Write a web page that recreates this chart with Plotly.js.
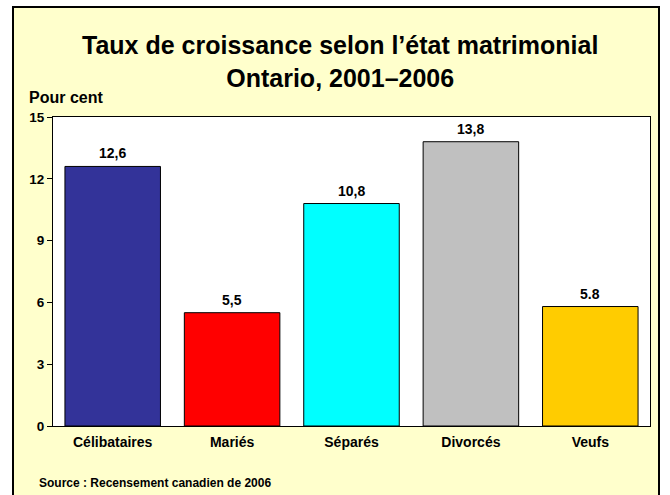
<!DOCTYPE html>
<html>
<head>
<meta charset="utf-8">
<script src="https://cdn.plot.ly/plotly-3.0.1.min.js"></script>
<style>
html,body{margin:0;padding:0;background:#ffffff;width:670px;height:495px;overflow:hidden;}
#frame{position:absolute;left:12px;top:6px;width:644px;height:488px;border:2px solid #000;background:#FFFFCC;}
#chart{width:644px;height:488px;}
</style>
</head>
<body>
<div id="frame"><div id="chart"></div></div>
<script>
const categories = ["Célibataires", "Mariés", "Séparés", "Divorcés", "Veufs"];
const values = [12.6, 5.5, 10.8, 13.8, 5.8];
const valueLabels = ["12,6", "5,5", "10,8", "13,8", "5.8"];
const barColors = ["#333399", "#FF0000", "#00FFFF", "#C0C0C0", "#FFCC00"];
const yTicks = [0, 3, 6, 9, 12, 15];
const titleLines = ["Taux de croissance selon l’état matrimonial", "Ontario, 2001–2006"];

const FONT = "Arial, 'Liberation Sans', sans-serif";

const trace = {
  type: "bar",
  x: categories,
  y: values,
  marker: {color: barColors, line: {color: "#000000", width: 1}},
  hoverinfo: "none"
};

const annotations = categories.map((c, i) => ({
  x: c, y: values[i], xref: "x", yref: "y",
  text: "<b>" + valueLabels[i] + "</b>",
  showarrow: false, yanchor: "bottom", yshift: 3,
  font: {family: FONT, size: 14, color: "#000"}
}));
annotations.push({
  xref: "paper", yref: "paper", x: 0.481, y: 1.284, xanchor: "center", yanchor: "top",
  text: "<b>" + titleLines.join("<br>") + "</b>", showarrow: false,
  font: {family: FONT, size: 25, color: "#000"}
});
annotations.push({
  xref: "paper", yref: "paper", x: -0.0436, y: 1.062, xanchor: "left", yanchor: "middle",
  text: "<b>Pour cent</b>", showarrow: false,
  font: {family: FONT, size: 16, color: "#000"}
});
annotations.push({
  xref: "paper", yref: "paper", x: -0.0268, y: -0.184, xanchor: "left", yanchor: "middle",
  text: "<b>Source : Recensement canadien de 2006</b>", showarrow: false,
  font: {family: FONT, size: 12, color: "#000"}
});

const layout = {
  width: 644, height: 488,
  paper_bgcolor: "#FFFFCC",
  plot_bgcolor: "#FFFFFF",
  margin: {l: 39, r: 8, t: 109, b: 70},
  bargap: 0.2,
  showlegend: false,
  xaxis: {
    type: "category",
    showline: true, linecolor: "#000", linewidth: 1, mirror: true,
    ticks: "", showgrid: false, ticklabelstandoff: 3,
    tickfont: {family: FONT, size: 14, color: "#000"},
    tickprefix: "<b>", ticksuffix: "</b>"
  },
  yaxis: {
    range: [0, 15], tickvals: yTicks, ticktext: yTicks.map(v => "<b>" + v + "</b>"),
    showline: true, linecolor: "#000", linewidth: 1, mirror: true,
    ticks: "outside", ticklen: 5, tickcolor: "#000",
    showgrid: false, zeroline: false,
    tickfont: {family: FONT, size: 13.5, color: "#000"}
  },
  annotations: annotations
};

Plotly.newPlot("chart", [trace], layout, {displayModeBar: false, staticPlot: true});
</script>
</body>
</html>
